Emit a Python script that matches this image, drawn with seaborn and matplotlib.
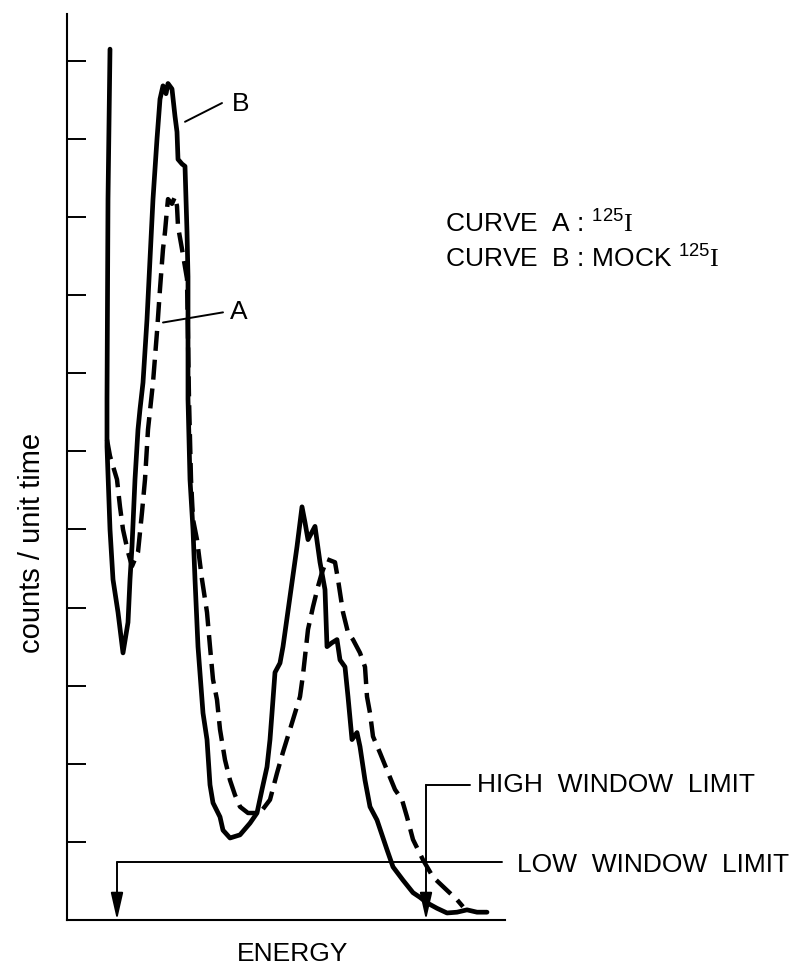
import matplotlib
matplotlib.use("Agg")
import matplotlib.pyplot as plt
import seaborn as sns

# curve B (mock 125I), solid line: energy channel, counts/unit time
b_energy = [43, 41, 40, 40, 43, 46, 51, 56, 61, 63, 65, 68, 71, 73, 76, 80, 83, 86, 90, 93,
            96, 99, 101, 105, 108, 110, 111, 115, 118, 120, 121, 121, 121, 123, 126, 128, 131, 136, 140, 143,
            146, 153, 156, 163, 173, 183, 190, 195, 200, 203, 205, 208, 213, 216, 223, 230, 235, 238, 241, 248,
            253, 258, 260, 265, 270, 273, 278, 281, 285, 290, 293, 298, 303, 310, 320, 326, 336, 346, 353, 360,
            370, 380, 390, 400, 410, 420]
b_counts = [11.15, 9.23, 6.67, 6.06, 5.00, 4.36, 3.94, 3.42, 3.81, 4.36, 4.78, 5.64, 6.28, 6.54, 6.88, 7.69, 8.46, 9.23, 10.0, 10.51,
            10.68, 10.58, 10.71, 10.64, 10.29, 10.09, 9.74, 9.68, 9.65, 8.81, 8.24, 7.53, 6.67, 5.64, 5.00, 4.36, 3.50, 2.65, 2.31, 1.73,
            1.50, 1.32, 1.15, 1.05, 1.09, 1.24, 1.37, 1.67, 1.96, 2.31, 2.65, 3.17, 3.29, 3.50, 4.14, 4.78, 5.29, 5.09, 4.87, 5.04,
            4.58, 4.23, 3.50, 3.55, 3.59, 3.33, 3.24, 2.86, 2.31, 2.40, 2.22, 1.79, 1.45, 1.28, 0.90, 0.68, 0.51, 0.35, 0.29, 0.22,
            0.15, 0.09, 0.10, 0.13, 0.10, 0.10]

# curve A (125I), dashed line
a_energy = [40, 43, 50, 53, 56, 61, 65, 71, 75, 78, 81, 86, 90, 93, 96, 98, 100, 101, 105, 108,
            110, 111, 115, 120, 122, 124, 126, 130, 135, 140, 143, 146, 150, 153, 158, 163, 168, 173, 181, 193,
            203, 210, 216, 223, 233, 236, 241, 246, 251, 255, 260, 268, 271, 276, 281, 286, 293, 298, 300, 303,
            306, 313, 320, 328, 335, 340, 346, 356, 366, 380, 390, 396]
a_counts = [6.15, 5.94, 5.64, 5.29, 5.00, 4.71, 4.53, 4.71, 5.22, 5.64, 6.28, 6.88, 7.53, 8.08, 8.59, 8.81, 9.10, 9.23, 9.17, 9.26,
            9.14, 8.88, 8.59, 8.21, 6.67, 5.64, 5.13, 4.87, 4.36, 3.94, 3.50, 3.08, 2.82, 2.44, 2.05, 1.79, 1.60, 1.45, 1.37, 1.37,
            1.54, 1.88, 2.15, 2.44, 2.86, 3.14, 3.72, 4.01, 4.27, 4.45, 4.62, 4.58, 4.36, 3.94, 3.68, 3.59, 3.42, 3.24, 2.86, 2.65,
            2.35, 2.14, 1.92, 1.67, 1.54, 1.32, 1.03, 0.77, 0.55, 0.38, 0.26, 0.17]

y_ticks = [1, 2, 3, 4, 5, 6, 7, 8, 9, 10, 11]
low_limit = 50
high_limit = 359
low_level = 0.74
high_level = 1.73

sns.set_style("ticks")
plt.rcParams["font.family"] = ["Liberation Sans", "DejaVu Sans"]
plt.rcParams["text.color"] = "black"
plt.rcParams["mathtext.fontset"] = "custom"
plt.rcParams["mathtext.rm"] = "Liberation Serif"
plt.rcParams["mathtext.sf"] = "Liberation Sans"

fig = plt.figure(figsize=(8.05, 9.75), dpi=100)
ax = fig.add_axes([67 / 805, 55 / 975, 438 / 805, 906 / 975])

sns.lineplot(x=b_energy, y=b_counts, sort=False, estimator=None, ax=ax,
             color="black", lw=3.4, solid_joinstyle="round", solid_capstyle="round")
sns.lineplot(x=a_energy, y=a_counts, sort=False, estimator=None, ax=ax,
             color="black", lw=3.2, linestyle=(0, (4.5, 2.0)))

ax.set_xlim(0, 438)
ax.set_ylim(0, 11.6)
ax.set_xticks([])
ax.set_yticks(y_ticks)
ax.set_yticklabels([])
ax.tick_params(axis="y", direction="in", length=14, width=1.4, color="black")
for side in ["top", "right"]:
    ax.spines[side].set_visible(False)
for side in ["left", "bottom"]:
    ax.spines[side].set_linewidth(1.5)
    ax.spines[side].set_color("black")
ax.set_xlabel("")
ax.set_ylabel("")

# curve labels with pointer lines
ax.plot([118, 155], [10.22, 10.46], color="black", lw=1.4)
ax.text(165, 10.45, "B", fontsize=19, va="center", ha="left")
ax.plot([96, 156], [7.65, 7.78], color="black", lw=1.4)
ax.text(163, 7.79, "A", fontsize=19, va="center", ha="left")

ax.text(378, 8.82, r"CURVE  A : $^{\mathsf{125}}\mathrm{I}$", fontsize=19, va="baseline", ha="left")
ax.text(378, 8.36, r"CURVE  B : MOCK $^{\mathsf{125}}\mathrm{I}$", fontsize=19, va="baseline", ha="left")

# window limits
arrow = dict(arrowstyle="-|>,head_length=1.1,head_width=0.25", lw=1.4, color="black",
             mutation_scale=15, shrinkA=0, shrinkB=0)
ax.plot([high_limit, 403], [high_level, high_level], color="black", lw=1.4, clip_on=False)
ax.annotate("", xy=(high_limit, 0), xytext=(high_limit, high_level), arrowprops=arrow)
ax.text(410, high_level, "HIGH  WINDOW  LIMIT", fontsize=19, va="center", ha="left")

ax.plot([low_limit, 435], [low_level, low_level], color="black", lw=1.4, clip_on=False)
ax.annotate("", xy=(low_limit, 0), xytext=(low_limit, low_level), arrowprops=arrow)
ax.text(450, low_level - 0.03, "LOW  WINDOW  LIMIT", fontsize=19, va="center", ha="left")

ax.text(226, -0.44, "ENERGY", fontsize=19, va="center", ha="center")
ax.text(-35, 4.83, "counts / unit time", fontsize=21, rotation=90, va="center", ha="center")

plt.savefig("out.png", dpi=100)
